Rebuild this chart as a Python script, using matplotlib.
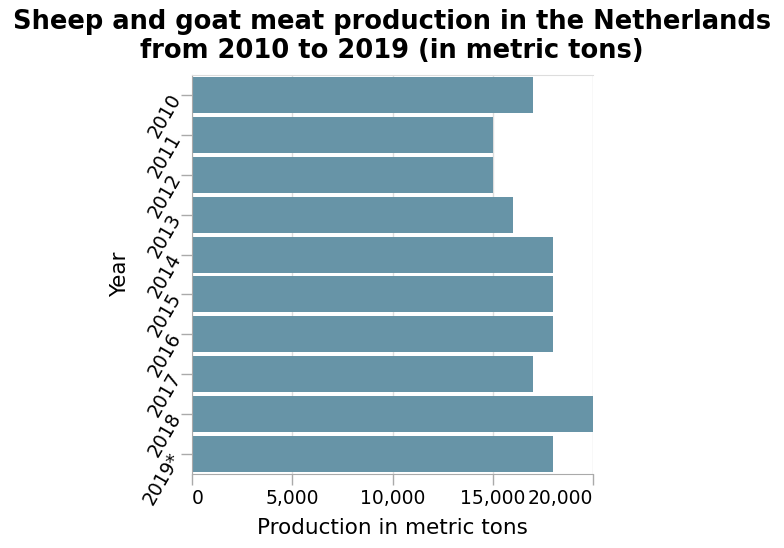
import matplotlib
matplotlib.use("Agg")
import matplotlib.pyplot as plt

years = ["2010", "2011", "2012", "2013", "2014", "2015", "2016", "2017", "2018", "2019*"]
production = [17000, 15000, 15000, 16000, 18000, 18000, 18000, 17000, 20000, 18000]
x_ticks = [0, 5000, 10000, 15000, 20000]
x_tick_labels = ["0", "5,000", "10,000", "15,000", "20,000"]

plt.rcParams['font.family'] = ['DejaVu Sans']
fig = plt.figure(figsize=(7.84, 5.48), dpi=100)
ax = fig.add_axes([192/784, 1-474/548, 401/784, 399/548])

pos = list(range(len(years)))
ax.barh(pos, production, height=0.9, color="#6794a7", zorder=2)
ax.set_ylim(len(years) - 0.5, -0.5)
ax.set_xlim(0, 20000)
ax.set_yticks(pos)
ax.set_yticklabels(years, rotation=60, fontsize=13.5, va="center", ha="right",
                   rotation_mode="anchor")
ax.set_xticks(x_ticks)
xl = ax.set_xticklabels(x_tick_labels, fontsize=13.5)
xl[0].set_ha("left")
xl[-1].set_ha("right")
ax.grid(axis="x", color="#dddddd", linewidth=1, zorder=0)
ax.spines["right"].set_visible(False)
ax.spines["top"].set_color("#dddddd")
for s in ["left", "bottom"]:
    ax.spines[s].set_color("#aaaaaa")
ax.tick_params(axis="both", color="#aaaaaa", length=8, width=1, pad=3)
ax.set_xlabel("Production in metric tons", fontsize=15.5, labelpad=7)
ax.set_ylabel("Year", fontsize=15.5, labelpad=7)
fig.text(0.5, 0.984, "Sheep and goat meat production in the Netherlands\nfrom 2010 to 2019 (in metric tons)",
         ha="center", va="top", fontsize=18.5, fontweight="bold", linespacing=1.15)
fig.savefig("out.png", dpi=100)
